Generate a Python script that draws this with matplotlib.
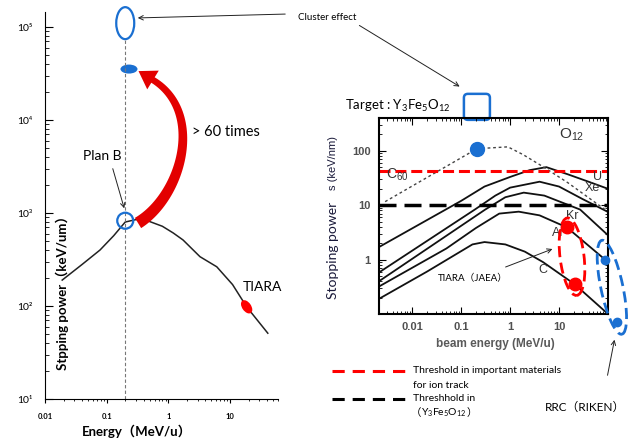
import numpy as np
import matplotlib
matplotlib.use("Agg")
import matplotlib.pyplot as plt
from matplotlib import transforms
from matplotlib.patches import Ellipse, Polygon, FancyBboxPatch
from matplotlib.lines import Line2D

plt.rcParams['font.family'] = ['Lato', 'Noto Sans CJK JP', 'DejaVu Sans']

W, H = 630, 440

# ---- left panel: stopping power vs energy
energy = [0.019, 0.04, 0.078, 0.13, 0.2, 0.3, 0.45, 0.8, 1.2, 1.73, 3.26, 6.1, 11, 18.6, 41]
stopping = [190, 280, 400, 570, 800, 850, 830, 720, 610, 513, 339, 264, 170, 98, 51]
plan_b = (0.2, 826)
cluster_top = (0.2, 1.10e5)
cluster_dot = (0.23, 3.53e4)
tiara_pt = (18.6, 98)
left_xticks = [0.01, 0.1, 1, 10]
left_xlabels = ['0.01', '0.1', '1', '10']
left_yticks = [10, 100, 1000, 1e4, 1e5]
left_ylabels = ['10¹', '10²', '10³', '10⁴', '10⁵']

# ---- right panel: ions in Y3Fe5O12
u_e = [0.0021, 0.1, 0.3, 1.0, 2.5, 5.5, 15, 40, 100]
u_s = [1.7, 12, 22, 33, 44, 50, 37, 27, 20]
xe_e = [0.0021, 0.19, 0.5, 1.0, 4.0, 10, 30, 100]
xe_s = [0.58, 8.3, 15, 21, 27, 22, 13, 7.5]
kr_e = [0.0021, 0.31, 0.8, 1.9, 5, 27, 100]
kr_s = [0.4, 8.3, 14, 17, 15, 8.3, 2.8]
ar_e = [0.0021, 0.05, 0.2, 0.6, 1.5, 4, 14.5, 87, 100]
ar_s = [0.32, 1.6, 3.8, 7.0, 7.6, 6.5, 3.9, 1.0, 0.92]
c_e = [0.0021, 0.02, 0.17, 0.3, 0.8, 2, 4.7, 21, 100]
c_s = [0.19, 0.6, 1.9, 2.1, 1.9, 1.4, 0.9, 0.35, 0.1]
c60_e = [0.0028, 0.21, 0.9, 1.84, 4.7, 15, 87]
c60_s = [11.6, 109, 118, 85, 51, 26, 8.3]
c60_dot = (0.21, 109)
tiara_e = [14.5, 21]
tiara_s = [3.9, 0.35]
riken_e = [87, 151]
riken_s = [1.0, 0.072]
thr_track = 43
thr_yig = 10
ion_labels = ['U', 'Xe', 'Kr', 'Ar', 'C']
ion_label_e = [60, 47, 19, 9.8, 4.7]
ion_label_s = [33, 21, 6.2, 3.1, 0.65]

BLUE = '#1a6fd1'
RED = '#ff0000'

fig = plt.figure(figsize=(6.3, 4.4), dpi=100)


def px(x, y):
    return x / W, 1 - y / H


def pix_ellipse(ax, xd, yd, w, h, angle=0, **kw):
    tr = fig.dpi_scale_trans + transforms.ScaledTranslation(xd, yd, ax.transData)
    ax.add_patch(Ellipse((0, 0), w / 100, h / 100, angle=angle, transform=tr,
                         clip_on=False, **kw))


def arrow(x0, y0, x1, y1, lw=0.7):
    fig.add_artist(matplotlib.patches.FancyArrowPatch(
        px(x0, y0), px(x1, y1), transform=fig.transFigure,
        arrowstyle='->', mutation_scale=8, lw=lw, color='#222'))


# ================= left panel
axL = fig.add_axes([45 / W, 1 - 399 / H, 233 / W, 387 / H])
axL.set_xscale('log')
axL.set_yscale('log')
axL.set_xlim(0.01, 60)
axL.set_ylim(10, 1.45e5)
axL.plot(energy, stopping, color='#222', lw=1.1)
axL.plot([0.2, 0.2], [10, 7.4e4], color='#777', lw=0.8, ls=(0, (3, 2)))

pix_ellipse(axL, *cluster_top, 18, 32, fc='none', ec=BLUE, lw=1.6)
pix_ellipse(axL, *cluster_dot, 17, 9, fc=BLUE, ec='none')
pix_ellipse(axL, *plan_b, 16, 16, fc='none', ec=BLUE, lw=1.6, zorder=5)
pix_ellipse(axL, *tiara_pt, 9, 15, angle=35, fc=RED, ec='none', zorder=5)

for s in ['top', 'right']:
    axL.spines[s].set_visible(False)
axL.set_xticks(left_xticks, left_xlabels, fontsize=5.5, fontweight='bold')
axL.set_yticks(left_yticks, left_ylabels, fontsize=7.5)
axL.tick_params(axis='y', which='major', direction='in', length=6, pad=9)
axL.tick_params(axis='y', which='minor', direction='in', length=3)
axL.tick_params(axis='x', which='major', direction='out', length=3, pad=7)
axL.tick_params(axis='x', which='minor', direction='out', length=1.5)

# red curved arrow (cubic bezier, tapering)
P = np.array([[138, 223], [182, 196], [205, 112], [153, 80]], float)
t = np.linspace(0, 1, 60)[:, None]
C = ((1 - t) ** 3) * P[0] + 3 * ((1 - t) ** 2) * t * P[1] + 3 * (1 - t) * t ** 2 * P[2] + t ** 3 * P[3]
D = 3 * ((1 - t) ** 2) * (P[1] - P[0]) + 6 * (1 - t) * t * (P[2] - P[1]) + 3 * t ** 2 * (P[3] - P[2])
D = D / np.linalg.norm(D, axis=1)[:, None]
N = np.column_stack([-D[:, 1], D[:, 0]])
hw = (6.0 * (1 - t) + 3.2 * t)
side1 = C + N * hw
side2 = C - N * hw
tip = P[3] + D[-1] * 17
head = [P[3] + N[-1] * 11, tip, P[3] - N[-1] * 11]
pts = np.vstack([side1, head, side2[::-1]])
pts_fig = np.column_stack([pts[:, 0] / W, 1 - pts[:, 1] / H])
fig.add_artist(Polygon(pts_fig, closed=True, transform=fig.transFigure,
                       fc='#e30000', ec='none', zorder=4))

fig.text(*px(192, 132), '> 60 times', fontsize=10.5, va='center', ha='left')
fig.text(*px(83, 156), 'Plan B', fontsize=10, va='center', ha='left')
arrow(112, 166, 125, 211)
fig.text(*px(243, 287), 'TIARA', fontsize=10, va='center', ha='left')
fig.text(*px(62, 290), 'Stpping power（keV/um）', rotation=90, fontsize=9.5,
         fontweight='bold', va='center', ha='center')
fig.text(*px(137, 431), 'Energy（MeV/u）', fontsize=9.5, fontweight='bold',
         va='center', ha='center')

# cluster effect annotations
fig.text(*px(298, 17), 'Cluster effect', fontsize=7, va='center', ha='left')
arrow(288, 14, 135, 18)
arrow(357, 24, 462, 88)

# ================= right panel
axR = fig.add_axes([379 / W, 1 - 314 / H, 229 / W, 196 / H])
axR.set_xscale('log')
axR.set_yscale('log')
axR.set_xlim(0.0021, 100)
axR.set_ylim(0.1, 400)
for e, s in [(u_e, u_s), (xe_e, xe_s), (kr_e, kr_s), (ar_e, ar_s), (c_e, c_s)]:
    axR.plot(e, s, color='#111', lw=1.3)
axR.plot(c60_e, c60_s, color='#444', lw=1, ls=(0, (2, 2)))
axR.axhline(thr_track, color=RED, lw=2.2, ls=(0, (3.6, 1.6)))
axR.axhline(thr_yig, color='black', lw=2.5, ls=(0, (4.9, 2.3)))
axR.plot(*c60_dot, 'o', color=BLUE, ms=10, zorder=5)
axR.plot(tiara_e, tiara_s, 'o', color=RED, ms=9, zorder=5, clip_on=False)
axR.plot(riken_e, riken_s, 'o', color=BLUE, ms=6, zorder=5, clip_on=False)
pix_ellipse(axR, 18.4, 1.13, 24, 78, angle=7, fc='none', ec=RED, lw=2,
            ls=(0, (4, 2)), zorder=6)
pix_ellipse(axR, 120, 0.31, 22, 96, angle=12, fc='none', ec=BLUE, lw=2,
            ls=(0, (4, 2)), zorder=6)

for name, xe, ys in zip(ion_labels, ion_label_e, ion_label_s):
    axR.text(xe, ys, name, fontsize=9, color='#333', ha='center', va='center',
             family='Liberation Sans')
axR.text(18.5, 196, r'$\mathregular{O_{12}}$', fontsize=11, color='#333',
         ha='center', va='center', family='Liberation Sans')
axR.text(0.0049, 36, r'$\mathregular{C_{60}}$', fontsize=10, color='#333',
         ha='center', va='center', family='Liberation Sans')

# blue square above the panel
tr = fig.dpi_scale_trans + transforms.ScaledTranslation(0.21, 641, axR.transData)
axR.add_patch(FancyBboxPatch((-0.13, -0.13), 0.26, 0.26,
                             boxstyle='round,pad=0,rounding_size=0.04',
                             transform=tr, fc='none', ec=BLUE, lw=1.8, clip_on=False))

for sp in axR.spines.values():
    sp.set_linewidth(1.5)
axR.set_xticks([0.01, 0.1, 1, 10], ['0.01', '0.1', '1', '10'],
               family='Liberation Sans', fontweight='bold', fontsize=8, color='#505050')
axR.set_yticks([1, 10, 100], ['1', '10', '100'],
               family='Liberation Sans', fontweight='bold', fontsize=8, color='#505050')
axR.tick_params(which='both', direction='in', top=True, right=True)
axR.tick_params(which='major', length=5, pad=6)
axR.tick_params(which='minor', length=2.5)

fig.text(*px(495, 344), 'beam energy (MeV/u)', fontsize=8.5, fontweight='bold',
         color='#5a5a5a', family='Liberation Sans', ha='center', va='center')
fig.text(*px(333, 250), 'Stopping power', rotation=90, fontsize=10,
         color='#1a1a3a', ha='center', va='center')
fig.text(*px(333, 163), 's (keV/nm)', rotation=90, fontsize=8,
         color='#1a1a3a', family='Liberation Sans', ha='center', va='center')

fig.text(*px(345, 106), r'Target : $\mathregular{Y_3Fe_5O_{12}}$', fontsize=9.5,
         ha='left', va='center')
fig.text(*px(438, 278), 'TIARA（JAEA）', fontsize=7, ha='left', va='center')
arrow(503, 268, 555, 248)
fig.text(*px(545, 407), 'RRC（RIKEN）', fontsize=8.5, ha='left', va='center')
arrow(607, 378, 615, 337)

# legend under the right panel
fig.add_artist(Line2D([332 / W, 410 / W], [1 - 371 / H] * 2, transform=fig.transFigure,
                      color=RED, lw=2.2, ls=(0, (4, 2.6))))
fig.add_artist(Line2D([332 / W, 410 / W], [1 - 399 / H] * 2, transform=fig.transFigure,
                      color='black', lw=2.2, ls=(0, (4, 2.6))))
fig.text(*px(413, 370), 'Threshold in important materials', fontsize=7.5, va='center')
fig.text(*px(413, 385), 'for ion track', fontsize=7.5, va='center')
fig.text(*px(413, 398), 'Threshhold in', fontsize=7.5, va='center')
p1 = fig.text(*px(411, 413), '（', fontsize=7.5, va='center')
p2 = axR.annotate(r'$\mathregular{Y_3Fe_5O_{12}}$', xy=(1, 0.5), xycoords=p1,
                  fontsize=7.5, va='center', ha='left', annotation_clip=False)
axR.annotate('）', xy=(1, 0.5), xycoords=p2, fontsize=7.5, va='center', ha='left',
             annotation_clip=False)

fig.savefig('out.png', dpi=100)
